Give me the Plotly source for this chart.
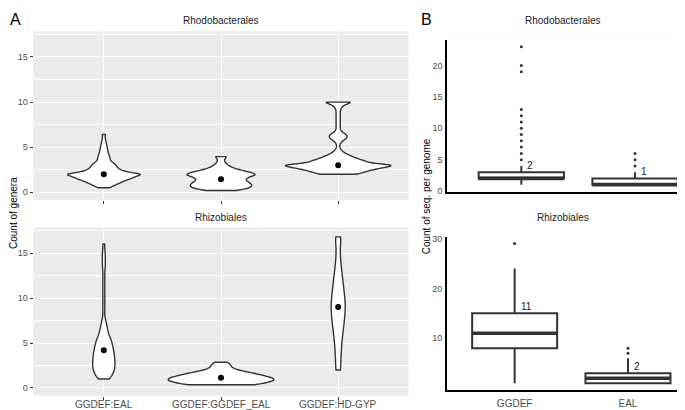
import numpy as np
import plotly.graph_objects as go

# ---------------- data ----------------
violin_categories = ["GGDEF:EAL", "GGDEF:GGDEF_EAL", "GGDEF:HD-GYP"]
facet_titles = ["Rhodobacterales", "Rhizobiales"]

# Panel A: samples (value, multiplicity) per violin
rhodo_eal_values = [0.5, 0.75, 1.0, 1.25, 1.5, 1.75, 2.0, 2.25, 2.5, 2.75, 3.0, 3.25, 3.5,
                    3.75, 4.0, 4.25, 4.5, 4.75, 5.0, 5.25, 5.5, 5.75, 6.0, 6.25, 6.4]
rhodo_eal_counts = [12, 22, 32, 42, 56, 66, 84, 48, 34, 28, 26, 20, 14,
                    13, 12, 10, 9, 8, 7, 6, 5, 4, 3, 2, 3]

rhodo_gge_values = [0.2, 0.45, 0.7, 0.95, 1.2, 1.45, 1.7, 1.95, 2.2, 2.45, 2.7, 2.95,
                    3.2, 3.45, 3.7, 3.95]
rhodo_gge_counts = [31, 56, 62, 60, 52, 48, 56, 72, 60, 40, 24, 16, 10, 7, 7, 13]

rhodo_hd_values = [2.0, 2.25, 2.5, 2.75, 3.0, 3.25, 3.5, 3.75, 4.0, 4.25, 4.5, 4.75, 5.0,
                   5.25, 5.5, 5.75, 6.0, 6.25, 6.5, 6.75, 7.0, 7.25, 7.5, 7.75, 8.0, 8.25,
                   8.5, 8.75, 9.0, 9.25, 9.5, 9.75, 10.0]
rhodo_hd_counts = [38, 50, 66, 88, 112, 60, 50, 36, 26, 16, 9, 5, 3,
                   3, 5, 10, 16, 18, 13, 6, 4, 4, 4, 4, 4, 4,
                   4, 4, 4, 5, 8, 14, 30]

rhizo_eal_values = [1.0, 1.5, 2.0, 2.5, 3.0, 3.5, 4.0, 4.5, 5.0, 5.5, 6.0, 6.5, 7.0, 7.5,
                    8.0, 8.5, 9.0, 9.5, 10.0, 10.5, 11.0, 11.5, 12.0, 12.5, 13.0, 13.5,
                    14.0, 14.5, 15.0, 15.5, 16.0]
rhizo_eal_counts = [12, 18, 22, 23, 23, 22, 21, 19, 17, 14, 10, 8, 6, 4,
                    2, 2, 2, 2, 2, 2, 2, 2, 2, 2, 2, 3,
                    3, 3, 3, 2, 2]

rhizo_gge_values = [0.36, 0.61, 0.86, 1.11, 1.36, 1.61, 1.86, 2.11, 2.36, 2.61, 2.86]
rhizo_gge_counts = [71, 88, 104, 100, 84, 66, 44, 26, 20, 18, 13]

rhizo_hd_values = [2, 3, 4, 5, 6, 7, 8, 9, 10, 11, 12, 13, 14, 15, 16, 16.8]
rhizo_hd_counts = [5, 5, 6, 7, 9, 11, 13, 14, 13, 11, 9, 7, 5, 4, 4, 5]

rhodo_points = [2.0, 1.45, 3.0]
rhizo_points = [4.2, 1.15, 9.0]

# Panel B: box statistics
box_categories = ["GGDEF", "EAL"]
rhodo_q1 = [2, 1]
rhodo_median = [2, 1]
rhodo_q3 = [3, 2]
rhodo_lower = [1, 1]
rhodo_upper = [4, 3]
rhodo_outliers_ggdef = [5, 6, 7, 8, 9, 10, 11, 12, 13, 19, 20, 23]
rhodo_outliers_eal = [4, 5, 6]

rhizo_q1 = [8, 1]
rhizo_median = [11, 2]
rhizo_q3 = [15, 3]
rhizo_lower = [1, 1]
rhizo_upper = [24, 6]
rhizo_outliers_ggdef = [29]
rhizo_outliers_eal = [7, 8]

# ---------------- styling ----------------
FONT = "Liberation Sans, Arial, Helvetica, sans-serif"
W, H = 685, 410
DARK = "#333333"
GREY30 = "#4d4d4d"


def px(x):
    return x / W


def py(y):
    return 1 - y / H


fig = go.Figure()

# violins
violin_sets = [
    ("x", "y", [(rhodo_eal_values, rhodo_eal_counts), (rhodo_gge_values, rhodo_gge_counts),
                (rhodo_hd_values, rhodo_hd_counts)], [0.62, 0.58, 0.9], [0.15, 0.15, 0.15],
     rhodo_points),
    ("x2", "y2", [(rhizo_eal_values, rhizo_eal_counts), (rhizo_gge_values, rhizo_gge_counts),
                  (rhizo_hd_values, rhizo_hd_counts)], [0.19, 0.9, 0.12], [0.3, 0.15, 0.6],
     rhizo_points),
]
for xa, ya, sets, widths, bws, pts in violin_sets:
    for i, ((vals, cnts), w, bw) in enumerate(zip(sets, widths, bws)):
        samples = np.repeat(np.array(vals, dtype=float), np.array(cnts))
        fig.add_trace(go.Violin(
            x0=i, y=samples, xaxis=xa, yaxis=ya, name=f"{ya}-{i}", scalegroup=f"{ya}-{i}",
            scalemode="width", width=w, bandwidth=bw, spanmode="hard", points=False,
            fillcolor="white", line=dict(color=DARK, width=1.4), showlegend=False,
            hoverinfo="skip", box_visible=False, meanline_visible=False, opacity=1))
    fig.add_trace(go.Scatter(x=list(range(len(pts))), y=pts, mode="markers", xaxis=xa, yaxis=ya,
                             marker=dict(color="black", size=6), showlegend=False,
                             hoverinfo="skip"))

# boxes
box_sets = [
    ("x3", "y3", rhodo_q1, rhodo_median, rhodo_q3, rhodo_lower, rhodo_upper,
     [rhodo_outliers_ggdef, rhodo_outliers_eal]),
    ("x4", "y4", rhizo_q1, rhizo_median, rhizo_q3, rhizo_lower, rhizo_upper,
     [rhizo_outliers_ggdef, rhizo_outliers_eal]),
]
annotations = []
BOXW = 0.75
for xa, ya, q1, med, q3, lo, hi, outs in box_sets:
    pos = list(range(len(box_categories)))
    fig.add_trace(go.Box(x=pos, q1=q1, median=med, q3=q3, lowerfence=lo, upperfence=hi,
                         xaxis=xa, yaxis=ya, width=BOXW, fillcolor="white",
                         line=dict(color=DARK, width=2), boxpoints=False, whiskerwidth=0,
                         showlegend=False, hoverinfo="skip"))
    for i in pos:
        fig.add_trace(go.Scatter(x=[i - BOXW / 2, i + BOXW / 2], y=[med[i], med[i]],
                                 mode="lines", xaxis=xa, yaxis=ya,
                                 line=dict(color=DARK, width=3.5), showlegend=False,
                                 hoverinfo="skip"))
        fig.add_trace(go.Scatter(x=[i] * len(outs[i]), y=outs[i], mode="markers",
                                 xaxis=xa, yaxis=ya, marker=dict(color=DARK, size=3),
                                 showlegend=False, hoverinfo="skip"))
        annotations.append(dict(x=i, y=q3[i], xref=xa, yref=ya, text=str(med[i]),
                                showarrow=False, xanchor="left", yanchor="middle",
                                xshift=4, yshift=7,
                                font=dict(family=FONT, size=10, color="#1a1a1a")))

# x tick labels of panel A (bottom facet) as text placed just under the ticks
for i, lab in enumerate(violin_categories):
    annotations.append(dict(x=i, y=py(401.5), xref="x2", yref="paper", text=lab,
                            showarrow=False, xanchor="center", yanchor="middle",
                            font=dict(family=FONT, size=10, color=GREY30)))


# text annotations
def txt(x, y, s, size=10, angle=0, color="#1a1a1a"):
    annotations.append(dict(x=px(x), y=py(y), xref="paper", yref="paper", text=s,
                            showarrow=False, xanchor="center", yanchor="middle",
                            textangle=angle, font=dict(family=FONT, size=size, color=color)))


txt(213, 10, facet_titles[0])
txt(213, 210.7, facet_titles[1])
txt(555, 10, facet_titles[0])
txt(555, 210.7, facet_titles[1])
txt(6, 206, "Count of genera", angle=-90, color="black")
txt(418, 189, "Count of seq. per genome", angle=-90, color="black")
txt(8, 8.5, "A", size=16, color="black")
txt(418, 8.5, "B", size=16, color="black")

gridA = dict(showgrid=True, gridcolor="white", gridwidth=1.4, zeroline=False,
             showline=False)
minorA = dict(tickvals=[2.5, 7.5, 12.5, 17.5], showgrid=True, gridcolor="white",
              gridwidth=0.7, ticks="")

xA = dict(range=[-0.6, 2.6], tickvals=[0, 1, 2], ticktext=violin_categories,
          ticks="outside", ticklen=3, tickcolor=DARK, tickwidth=1, showticklabels=False,
          **gridA)
yA = dict(range=[-0.85, 17.85], tickvals=[0, 5, 10, 15], ticks="outside", ticklen=3,
          tickcolor=DARK, tickwidth=1, tickfont=dict(family=FONT, size=9, color=GREY30),
          minor=minorA, **gridA)

lineB = dict(showgrid=False, zeroline=False, showline=True, linecolor="black", linewidth=2)
yTicksB = dict(ticks="outside", ticklen=1, tickcolor="rgba(0,0,0,0)")

fig.update_layout(
    width=W, height=H, margin=dict(l=0, r=0, t=0, b=0),
    paper_bgcolor="white", plot_bgcolor="#EBEBEB",
    violinmode="overlay", boxmode="overlay", showlegend=False,
    font=dict(family=FONT),
    xaxis=dict(domain=[px(25.5), px(400.5)], anchor="y", **xA),
    yaxis=dict(domain=[py(192.7), py(20.7)], anchor="x", **yA),
    xaxis2=dict(domain=[px(25.5), px(400.5)], anchor="y2", **xA),
    yaxis2=dict(domain=[py(392.3), py(220.7)], anchor="x2", **yA),
    xaxis3=dict(domain=[px(439.3), px(684)], anchor="y3", range=[-0.651, 1.501],
                tickvals=[0, 1], showticklabels=False, ticks="", **lineB),
    yaxis3=dict(domain=[py(184.3), py(29.3)], anchor="x3", range=[-0.1, 24.1],
                tickvals=[0, 5, 10, 15, 20],
                tickfont=dict(family=FONT, size=9, color=GREY30), **yTicksB, **lineB),
    xaxis4=dict(domain=[px(439), px(684)], anchor="y4", range=[-0.597, 1.565],
                tickvals=[0, 1], ticktext=box_categories, ticks="outside", ticklen=3,
                tickcolor="rgba(0,0,0,0)",
                tickfont=dict(family=FONT, size=10, color=GREY30), **lineB),
    yaxis4=dict(domain=[py(386.7), py(230)], anchor="x4", range=[-0.4, 30.4],
                tickvals=[10, 20, 30],
                tickfont=dict(family=FONT, size=9, color=GREY30), **yTicksB, **lineB),
    annotations=annotations,
    shapes=[dict(type="rect", xref=f"{xa} domain", yref=f"{ya} domain", x0=0, x1=1, y0=0,
                 y1=1, fillcolor="white", line=dict(width=0), layer="below")
            for xa, ya in [("x3", "y3"), ("x4", "y4")]],
)

fig.write_html("out.html")
